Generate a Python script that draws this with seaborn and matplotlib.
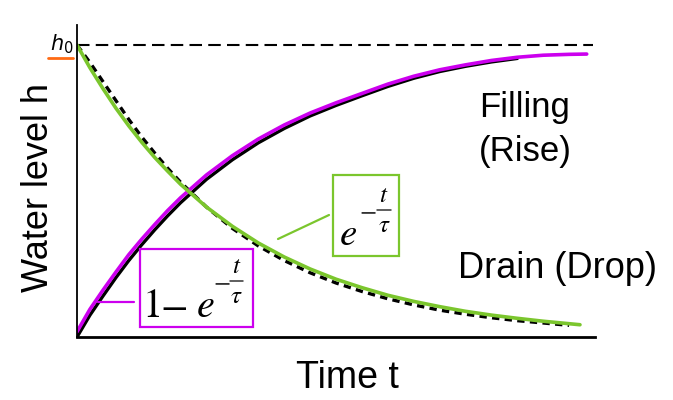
import numpy as np
import pandas as pd
import matplotlib
matplotlib.use("Agg")
import matplotlib.pyplot as plt
from matplotlib.lines import Line2D
from matplotlib.patches import Rectangle
import seaborn as sns

# Time samples (plot units, 0..10) and relative water level h/h0
t_rise = [0.0, 0.25, 0.5, 0.75, 1.0, 1.25, 1.5, 1.75, 2.0, 2.5, 3.0, 3.5, 4.0,
          4.5, 5.0, 5.5, 6.0, 6.5, 7.0, 7.5, 8.0, 8.5, 9.0, 9.5, 9.84]
h_rise = [0.018, 0.095, 0.160, 0.222, 0.282, 0.335, 0.385, 0.433, 0.477, 0.555,
          0.621, 0.678, 0.726, 0.767, 0.802, 0.834, 0.866, 0.893, 0.915, 0.932,
          0.947, 0.958, 0.965, 0.968, 0.969]

# Original scanned (black) filling curve beneath the coloured one
t_rise_scan = [0.0, 0.25, 0.5, 0.75, 1.0, 1.25, 1.5, 1.75, 2.0, 2.5, 3.0, 3.5,
               4.0, 4.5, 5.0, 5.5, 6.0, 6.5, 7.0, 7.5, 8.0, 8.5]
h_rise_scan = [0.0, 0.075, 0.140, 0.203, 0.262, 0.316, 0.367, 0.415, 0.460, 0.540,
               0.607, 0.665, 0.714, 0.757, 0.793, 0.826, 0.858, 0.886, 0.909, 0.927,
               0.942, 0.954]

t_drain = [0.0, 0.25, 0.5, 0.75, 1.0, 1.25, 1.5, 1.75, 2.0, 2.5, 3.0, 3.5, 4.0,
           4.5, 5.0, 5.5, 6.0, 6.5, 7.0, 7.5, 8.0, 8.5, 9.0, 9.71]
h_drain = [1.0, 0.922, 0.851, 0.784, 0.723, 0.667, 0.615, 0.568, 0.523, 0.445,
           0.379, 0.322, 0.274, 0.233, 0.198, 0.169, 0.143, 0.122, 0.104, 0.088,
           0.075, 0.064, 0.054, 0.042]

# Original scanned (black dashed) draining curve
t_drain_scan = [0.0, 0.25, 0.5, 0.75, 1.0, 1.25, 1.5, 1.75, 2.0, 2.5, 3.0, 3.5,
                4.0, 4.5, 5.0, 5.5, 6.0, 6.5, 7.0, 7.5, 8.0, 8.5, 9.0, 9.5]
h_drain_scan = [1.0, 0.940, 0.875, 0.810, 0.745, 0.685, 0.630, 0.578, 0.530, 0.445,
                0.372, 0.312, 0.262, 0.220, 0.185, 0.156, 0.131, 0.110, 0.092, 0.078,
                0.066, 0.056, 0.048, 0.040]

# Full level h0 reference line
t_full = [0.0, 9.96]
h_full = [1.0, 1.0]

MAGENTA = "#CC00EE"
GREEN = "#7BC62D"
ORANGE = "#FF6A13"

sns.set_theme(style="white")
plt.rcParams["font.family"] = ["Liberation Sans", "DejaVu Sans"]
plt.rcParams["mathtext.fontset"] = "stix"
plt.rcParams["text.color"] = "black"

W, H = 673, 400
fig = plt.figure(figsize=(W / 100, H / 100), dpi=100)
fig.patch.set_facecolor("white")


def fx(px):
    return px / W


def fy(py):
    return 1 - py / H


ax = fig.add_axes([fx(77), fy(337), (595 - 77) / W, (337 - 25) / H])
ax.set_facecolor("white")

rise_scan = pd.DataFrame({"t": t_rise_scan, "h": h_rise_scan})
rise = pd.DataFrame({"t": t_rise, "h": h_rise})
drain_scan = pd.DataFrame({"t": t_drain_scan, "h": h_drain_scan})
drain = pd.DataFrame({"t": t_drain, "h": h_drain})
full = pd.DataFrame({"t": t_full, "h": h_full})

sns.lineplot(data=full, x="t", y="h", ax=ax, color="black", lw=1.5,
             dashes=(6, 3), sort=False)
sns.lineplot(data=rise_scan, x="t", y="h", ax=ax, color="black", lw=2.4, sort=False)
sns.lineplot(data=drain_scan, x="t", y="h", ax=ax, color="black", lw=2.4,
             dashes=(2.2, 1.6), sort=False)
sns.lineplot(data=rise, x="t", y="h", ax=ax, color=MAGENTA, lw=2.6, sort=False)
sns.lineplot(data=drain, x="t", y="h", ax=ax, color=GREEN, lw=2.6, sort=False)
for ln in ax.lines:
    ln.set_solid_joinstyle("round")
    ln.set_solid_capstyle("round")

ax.set_xlim(0, 10)
ax.set_ylim(0, 312 / 292)
ax.set_xticks([])
ax.set_yticks([])
ax.set_xlabel("")
ax.set_ylabel("")
for side in ("top", "right"):
    ax.spines[side].set_visible(False)
ax.spines["left"].set_color("black")
ax.spines["left"].set_linewidth(1.3)
ax.spines["bottom"].set_color("black")
ax.spines["bottom"].set_linewidth(2.0)

# Axis titles
fig.text(fx(39), fy(188), "Water level h", rotation=90, ha="center", va="center",
         fontsize=26, color="black")
fig.text(fx(347), fy(378), "Time t", ha="center", va="center", fontsize=27,
         color="black")

# Curve names
fig.text(fx(525), fy(108), "Filling", ha="center", va="center", fontsize=25,
         color="black")
fig.text(fx(525), fy(152), "(Rise)", ha="center", va="center", fontsize=25,
         color="black")
fig.text(fx(558), fy(268), "Drain (Drop)", ha="center", va="center", fontsize=26,
         color="black")

# h0 marker
fig.text(fx(62), fy(44), r"$h_0$", ha="center", va="center", fontsize=15,
         color="black", math_fontfamily="dejavusans")
fig.add_artist(Line2D([fx(48), fx(73)], [fy(57.5), fy(57.5)], color=ORANGE, lw=2))


def exponent(x_minus, x_bar0, x_bar1, y_bar, size):
    """Draw the stacked exponent  - t/tau  as separate pieces."""
    fig.text(fx(x_minus), fy(y_bar), r"$-$", ha="center", va="center",
             fontsize=size, color="#333333")
    fig.add_artist(Line2D([fx(x_bar0), fx(x_bar1)], [fy(y_bar), fy(y_bar)],
                          color="#333333", lw=1.1))
    xc = (x_bar0 + x_bar1) / 2
    fig.text(fx(xc), fy(y_bar - 3), r"$t$", ha="center", va="bottom",
             fontsize=size, color="black")
    fig.text(fx(xc), fy(y_bar + 3), r"$\tau$", ha="center", va="top",
             fontsize=size, color="black")


# Filling formula box: 1 - e^(-t/tau)
fig.add_artist(Rectangle((fx(140), fy(327)), (253 - 140) / W, (327 - 249) / H,
                         transform=fig.transFigure, fill=True, facecolor="white",
                         edgecolor=MAGENTA, lw=1.6))
fig.text(fx(151), fy(317), r"$1$", ha="center", va="baseline", fontsize=29,
         color="black")
fig.text(fx(173.5), fy(317), r"$-$", ha="center", va="baseline", fontsize=29,
         color="black")
fig.text(fx(205), fy(317), r"$e$", ha="center", va="baseline", fontsize=29,
         color="black")
exponent(221.5, 230, 243, 281, 18)
fig.add_artist(Line2D([fx(98), fx(134)], [fy(301.5), fy(301.5)], color=MAGENTA,
                      lw=1.6))

# Draining formula box: e^(-t/tau)
fig.add_artist(Rectangle((fx(333), fy(256)), (399 - 333) / W, (256 - 175) / H,
                         transform=fig.transFigure, fill=True, facecolor="white",
                         edgecolor=GREEN, lw=1.6))
fig.text(fx(348.5), fy(245), r"$e$", ha="center", va="baseline", fontsize=28,
         color="black")
exponent(367.5, 377, 391, 210, 18)
fig.add_artist(Line2D([fx(278), fx(329)], [fy(239), fy(215)], color=GREEN, lw=1.6))

fig.savefig("out.png", dpi=100, facecolor="white")
